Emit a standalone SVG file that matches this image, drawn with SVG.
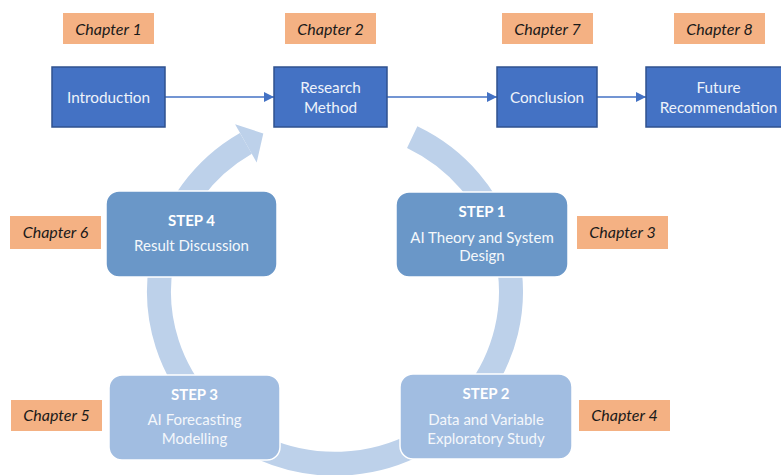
<svg xmlns="http://www.w3.org/2000/svg" width="781" height="475" viewBox="0 0 781 475">
  <defs>
    <style>
      .chap rect { fill: #F4B183; }
      .chap text { font-family: Lato, "Liberation Sans", sans-serif; font-style: italic; font-size: 16px; fill: #1a1a1a; text-anchor: middle; }
      .top rect { fill: #4472C4; stroke: #2F528F; stroke-width: 1.5; }
      .top text { font-family: Lato, "Liberation Sans", sans-serif; font-size: 15.3px; fill: #EEF2FA; text-anchor: middle; }
      .step rect { stroke: #FFFFFF; stroke-width: 1.5; }
      .step.dark rect { fill: #6A97C8; }
      .step.light rect { fill: #A1BDE1; }
      .step text { font-family: Lato, "Liberation Sans", sans-serif; font-size: 15px; fill: #F4F7FB; text-anchor: middle; }
      .step text.hd { font-weight: bold; fill: #FFFFFF; }
      .flow { stroke: #4472C4; stroke-width: 1.3; fill: none; }
      .cycle { stroke: #BDD1EA; stroke-width: 24; fill: none; }
    </style>
    <marker id="arrow" viewBox="0 0 10 10" refX="10" refY="5" markerWidth="10" markerHeight="10" markerUnits="userSpaceOnUse" orient="auto">
      <path d="M0,0 L10,5 L0,10 Z" fill="#4472C4"/>
    </marker>
  </defs>

  <!-- connectors -->
  <g id="connectors">
    <!-- cycle ring behind the step boxes -->
    <path class="cycle" d="M412.2,137.2 A176,172 0 1 1 245.9,143.4"/>
    <polygon points="235.1,124.3 263.3,133.5 256.7,162.5" fill="#BDD1EA"/>
    <!-- chapter flow -->
    <line class="flow" x1="165" y1="97" x2="274" y2="97" marker-end="url(#arrow)"/>
    <line class="flow" x1="387" y1="97" x2="497" y2="97" marker-end="url(#arrow)"/>
    <line class="flow" x1="597" y1="97" x2="646" y2="97" marker-end="url(#arrow)"/>
  </g>

  <!-- chapter labels -->
  <g id="ch1" class="chap"><rect x="63" y="13" width="91" height="31"/><text x="108.5" y="34.5">Chapter 1</text></g>
  <g id="ch2" class="chap"><rect x="285" y="13" width="91" height="31"/><text x="330.5" y="34.5">Chapter 2</text></g>
  <g id="ch7" class="chap"><rect x="502" y="13" width="91" height="31"/><text x="547.5" y="34.5">Chapter 7</text></g>
  <g id="ch8" class="chap"><rect x="674" y="13" width="91" height="31"/><text x="719.5" y="34.5">Chapter 8</text></g>
  <g id="ch6" class="chap"><rect x="10" y="216" width="91" height="33"/><text x="55.5" y="238">Chapter 6</text></g>
  <g id="ch3" class="chap"><rect x="577" y="216" width="91" height="33"/><text x="622.5" y="238">Chapter 3</text></g>
  <g id="ch5" class="chap"><rect x="11" y="400" width="91" height="31"/><text x="56.5" y="421">Chapter 5</text></g>
  <g id="ch4" class="chap"><rect x="579" y="400" width="91" height="31"/><text x="624.5" y="421">Chapter 4</text></g>

  <!-- chapter flow nodes -->
  <g id="introduction" class="top"><rect x="52" y="67" width="113" height="60"/><text x="108.5" y="103">Introduction</text></g>
  <g id="research-method" class="top"><rect x="274" y="67" width="113" height="60"/><text x="330.5" y="93">Research</text><text x="330.5" y="113">Method</text></g>
  <g id="conclusion" class="top"><rect x="497" y="67" width="100" height="60"/><text x="547" y="103">Conclusion</text></g>
  <g id="future-recommendation" class="top"><rect x="646" y="67" width="140" height="60"/><text x="718.5" y="93">Future</text><text x="718.5" y="113">Recommendation</text></g>

  <!-- research steps -->
  <g id="step4" class="step dark">
    <rect x="106" y="191" width="171" height="86" rx="13"/>
    <text class="hd" x="191.5" y="226">STEP 4</text>
    <text x="191.5" y="251">Result Discussion</text>
  </g>
  <g id="step1" class="step dark">
    <rect x="396" y="192" width="172" height="85" rx="13"/>
    <text class="hd" x="482" y="217">STEP 1</text>
    <text x="482" y="243">AI Theory and System</text>
    <text x="482" y="261">Design</text>
  </g>
  <g id="step3" class="step light">
    <rect x="109" y="375" width="171" height="85" rx="13"/>
    <text class="hd" x="194.5" y="400">STEP 3</text>
    <text x="194.5" y="425">AI Forecasting</text>
    <text x="194.5" y="444">Modelling</text>
  </g>
  <g id="step2" class="step light">
    <rect x="400" y="374" width="172" height="85" rx="13"/>
    <text class="hd" x="486" y="399">STEP 2</text>
    <text x="486" y="425">Data and Variable</text>
    <text x="486" y="444">Exploratory Study</text>
  </g>
</svg>
